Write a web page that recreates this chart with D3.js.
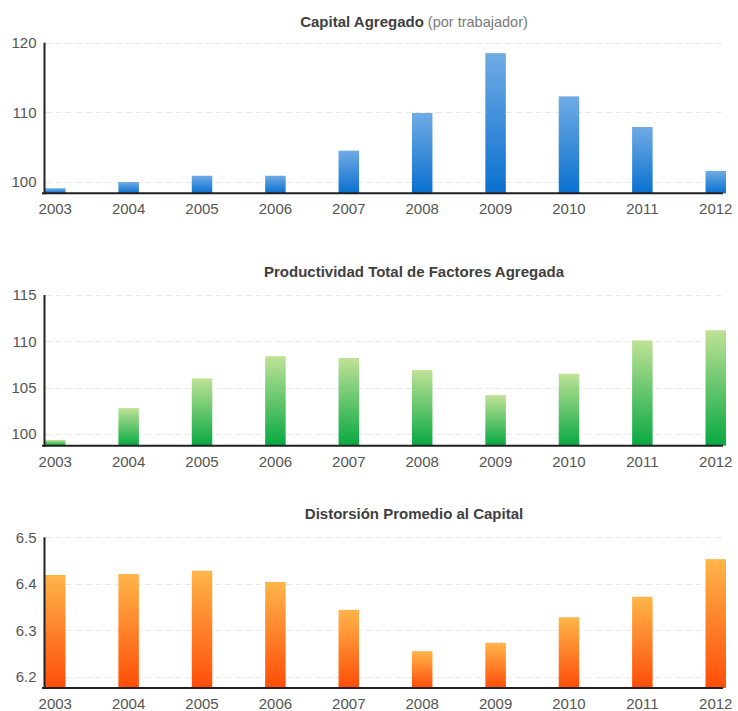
<!DOCTYPE html>
<html>
<head>
<meta charset="utf-8">
<script src="https://cdn.jsdelivr.net/npm/d3@7"></script>
<style>
  html, body { margin: 0; padding: 0; background: #fff; }
  svg { display: block; font-family: "Liberation Sans", Arial, Helvetica, sans-serif; }
</style>
</head>
<body>
<svg id="chart" width="738" height="711"></svg>
<script>
// Years shown on every panel
const years = ["2003", "2004", "2005", "2006", "2007", "2008", "2009", "2010", "2011", "2012"];

// Capital agregado por trabajador (índice)
const capitalValues = [99.1, 100.0, 100.9, 100.9, 104.5, 109.9, 118.5, 112.3, 107.9, 101.6];
const capitalTicks = [100, 110, 120];
const capitalDomain = [98.38, 120];

// Productividad total de factores agregada (índice)
const ptfValues = [99.35, 102.8, 106.0, 108.4, 108.2, 106.9, 104.2, 106.5, 110.1, 111.2];
const ptfTicks = [100, 105, 110, 115];
const ptfDomain = [98.74, 115];

// Distorsión promedio al capital
const distValues = [6.419, 6.421, 6.428, 6.404, 6.344, 6.255, 6.273, 6.328, 6.372, 6.453];
const distTicks = [6.2, 6.3, 6.4, 6.5];
const distDomain = [6.1757, 6.5];

const panels = [
  { id: "cap", title: "Capital Agregado", subtitle: " (por trabajador)", values: capitalValues,
    ticks: capitalTicks, domain: capitalDomain, fmt: d3.format("d"),
    top: 42.7, bottom: 193.3, titleY: 27, colors: ["#70abe4", "#0a70d0"] },
  { id: "ptf", title: "Productividad Total de Factores Agregada", subtitle: "", values: ptfValues,
    ticks: ptfTicks, domain: ptfDomain, fmt: d3.format("d"),
    top: 295, bottom: 445.7, titleY: 277, colors: ["#bfe296", "#08a942"] },
  { id: "dist", title: "Distorsión Promedio al Capital", subtitle: "", values: distValues,
    ticks: distTicks, domain: distDomain, fmt: d3.format(".1f"),
    top: 537.3, bottom: 688, titleY: 519, colors: ["#ffb54a", "#ff4d08"] }
];

const svg = d3.select("#chart");
const defs = svg.append("defs");

const axisX = 44.5;
const gridRight = 722;

const x = d3.scaleBand()
  .domain(years)
  .range([45, 726])
  .paddingInner(0.7207)
  .paddingOuter(0);

panels.forEach(p => {
  const y = d3.scaleLinear().domain(p.domain).range([p.bottom, p.top]);

  const grad = defs.append("linearGradient")
    .attr("id", "grad-" + p.id)
    .attr("x1", 0).attr("y1", 0).attr("x2", 0).attr("y2", 1);
  grad.append("stop").attr("offset", "0%").attr("stop-color", p.colors[0]);
  grad.append("stop").attr("offset", "100%").attr("stop-color", p.colors[1]);

  const g = svg.append("g");

  // Title
  const t = g.append("text")
    .attr("x", 414)
    .attr("y", p.titleY)
    .attr("text-anchor", "middle");
  t.append("tspan").attr("font-weight", "bold").attr("fill", "#404040")
    .style("font-size", "15px").text(p.title);
  if (p.subtitle) t.append("tspan").attr("fill", "#7a7a7a")
    .style("font-size", "14.5px").text(p.subtitle);

  // Dashed gridlines
  g.append("g")
    .selectAll("line")
    .data(p.ticks)
    .join("line")
    .attr("x1", axisX + 1)
    .attr("x2", gridRight)
    .attr("y1", d => Math.round(y(d)) + 0.5)
    .attr("y2", d => Math.round(y(d)) + 0.5)
    .attr("stroke", "#e8e8e8")
    .attr("stroke-width", 1)
    .attr("stroke-dasharray", "6,4");

  // Y tick labels
  const yAxis = d3.axisLeft(y)
    .tickValues(p.ticks)
    .tickFormat(p.fmt)
    .tickSize(0)
    .tickPadding(8);
  const ya = g.append("g").attr("transform", `translate(${axisX},0)`).call(yAxis);
  ya.select(".domain").remove();
  ya.selectAll("text")
    .attr("fill", "#555")
    .style("font-size", "15px")
    .style("font-family", "'Liberation Sans', Arial, sans-serif");

  // Bars
  g.append("g")
    .selectAll("rect")
    .data(p.values)
    .join("rect")
    .attr("x", (d, i) => x(years[i]))
    .attr("width", x.bandwidth())
    .attr("y", d => y(d))
    .attr("height", d => y(p.domain[0]) - y(d))
    .attr("fill", `url(#grad-${p.id})`);

  // Axis lines
  g.append("line")
    .attr("x1", axisX).attr("x2", axisX)
    .attr("y1", p.top).attr("y2", p.bottom + 1)
    .attr("stroke", "#231f20").attr("stroke-width", 2);
  g.append("line")
    .attr("x1", 42).attr("x2", 723)
    .attr("y1", p.bottom).attr("y2", p.bottom)
    .attr("stroke", "#231f20").attr("stroke-width", 2);

  // X labels
  g.append("g")
    .selectAll("text")
    .data(years)
    .join("text")
    .attr("x", d => x(d) + x.bandwidth() / 2)
    .attr("y", p.bottom + 21)
    .attr("text-anchor", "middle")
    .attr("fill", "#555")
    .style("font-size", "15px")
    .text(d => d);
});
</script>
</body>
</html>
